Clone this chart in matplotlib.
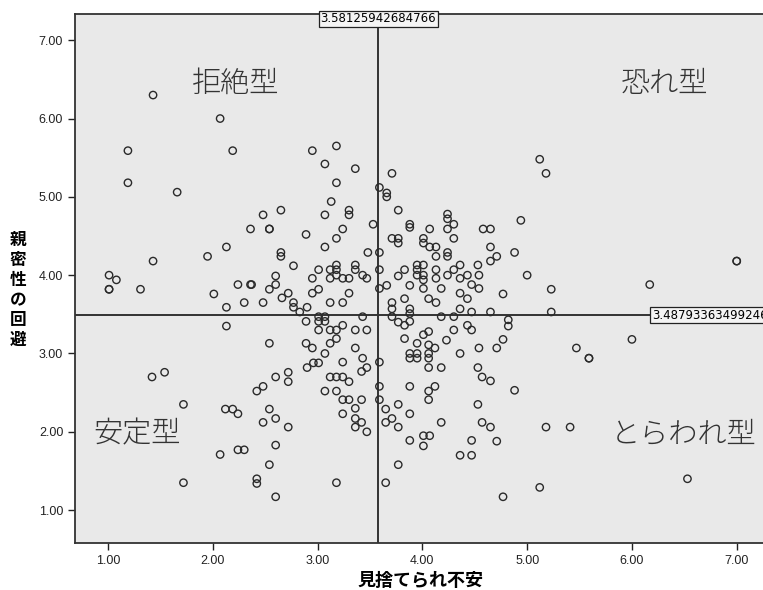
import numpy as np
import matplotlib
matplotlib.use('Agg')
import matplotlib.pyplot as plt
import matplotlib.transforms as mtransforms

plt.rcParams['font.family'] = ['Liberation Sans Narrow', 'Liberation Sans', 'Noto Sans CJK JP', 'DejaVu Sans']

# 見捨てられ不安 (x) / 親密性の回避 (y)
x = [
    1.43, 2.07, 1.19, 2.19, 2.95, 3.18, 3.07, 3.36, 1.19, 3.18, 3.71, 1.66, 3.59, 3.66, 3.66, 3.13,
    3.77, 2.48, 2.65, 3.07, 3.30, 3.30, 2.36, 2.54, 2.54, 2.89, 3.24, 3.53, 3.18, 3.71, 3.07, 2.13,
    1.95, 1.43, 2.65, 2.65, 3.48, 3.59,
    5.12, 5.18, 3.88, 3.88, 4.07, 4.24, 4.24, 4.24, 4.30, 4.30, 4.58, 4.65, 4.94, 3.77, 3.77, 4.01,
    4.01, 4.07, 4.13, 4.13, 4.24, 4.24, 4.65, 4.65, 4.71, 4.88, 7.00, 7.00, 4.53, 4.36,
    2.77, 2.37, 2.54, 2.60, 2.60, 2.48, 2.66, 2.72, 2.77, 2.77, 2.83, 2.90, 2.89, 2.95, 3.01, 3.01,
    2.95, 3.12, 3.12, 3.18, 3.18, 3.18, 3.24, 3.30, 3.36, 3.36, 3.43, 3.47, 3.30, 3.12, 3.24, 3.01,
    3.07, 3.01, 3.07, 3.43, 3.01, 3.12, 3.18, 3.18, 3.12, 3.24, 3.36, 3.47, 2.54, 2.89, 2.95, 3.07,
    3.36, 3.43, 3.24,
    3.59, 3.59, 3.66, 3.77, 3.83, 3.95, 3.95, 3.95, 4.01, 4.01, 4.01, 3.88, 4.01, 4.13, 4.13, 4.18,
    4.24, 4.30, 4.36, 4.43, 4.47, 4.54, 4.54, 4.36, 4.43, 3.83, 4.06, 4.13, 3.71, 3.71, 3.88, 3.88,
    3.71, 3.77, 3.83, 3.88, 4.18, 4.30, 4.36, 4.47, 4.43, 4.47, 4.30, 4.23, 4.06, 4.01, 3.95, 3.83,
    4.06, 3.88, 3.88, 3.95, 3.95, 4.06, 4.06, 4.12, 4.36, 4.54, 3.59,
    2.90, 2.96, 3.01, 3.42, 3.47, 2.60, 2.72, 2.72, 2.42, 2.48, 3.12, 3.18, 3.24, 3.30, 3.07, 3.18,
    3.24, 3.30, 3.42, 3.24, 3.36, 3.36, 3.42, 3.36, 3.47, 2.54, 2.60, 2.48, 2.72, 2.60, 2.54, 2.42,
    2.42, 3.18,
    4.06, 4.18, 4.53, 4.57, 3.59, 3.88, 4.06, 4.12, 4.06, 3.59, 3.65, 3.77, 3.88, 3.71, 3.65, 3.77,
    4.18, 4.53, 4.57, 3.88, 4.01, 4.07, 4.01, 4.47, 4.36, 4.47, 3.77, 3.65,
    6.17, 5.23, 5.00, 4.77, 5.23, 4.82, 4.82, 4.77, 4.71, 5.47, 5.59, 5.59, 6.00, 4.88, 4.65, 4.65,
    4.71, 5.18, 5.41, 6.53, 5.12, 4.77, 4.65,
    1.01, 1.08, 1.01, 1.01, 1.31, 2.01, 2.13, 2.13, 2.24, 2.36, 2.30, 1.42, 1.54, 1.72, 2.12, 2.19,
    2.24, 2.07, 2.24, 2.30, 2.60, 1.72,
]
y = [
    6.30, 6.00, 5.59, 5.59, 5.59, 5.65, 5.42, 5.36, 5.18, 5.18, 5.30, 5.06, 5.12, 5.05, 5.00, 4.94,
    4.83, 4.77, 4.83, 4.77, 4.83, 4.77, 4.59, 4.59, 4.59, 4.52, 4.59, 4.65, 4.47, 4.47, 4.36, 4.36,
    4.24, 4.18, 4.29, 4.24, 4.29, 4.29,
    5.48, 5.30, 4.65, 4.61, 4.59, 4.78, 4.72, 4.59, 4.65, 4.47, 4.59, 4.59, 4.70, 4.47, 4.41, 4.47,
    4.41, 4.36, 4.36, 4.24, 4.29, 4.24, 4.36, 4.18, 4.24, 4.29, 4.18, 4.18, 4.13, 4.13,
    4.12, 3.88, 3.82, 3.99, 3.88, 3.65, 3.71, 3.77, 3.65, 3.59, 3.53, 3.59, 3.41, 3.96, 4.07, 3.82,
    3.77, 4.07, 3.96, 4.13, 4.07, 4.00, 3.96, 3.96, 4.13, 4.07, 4.00, 3.96, 3.77, 3.65, 3.65, 3.47,
    3.47, 3.41, 3.41, 3.47, 3.30, 3.30, 3.30, 3.19, 3.13, 3.36, 3.30, 3.30, 3.13, 3.13, 3.07, 3.00,
    3.07, 2.94, 2.89,
    4.07, 3.83, 3.87, 3.99, 4.07, 4.13, 4.07, 4.00, 4.13, 4.00, 3.94, 3.87, 3.83, 4.07, 3.96, 3.83,
    4.00, 4.07, 3.96, 4.00, 3.88, 4.00, 3.83, 3.77, 3.70, 3.70, 3.70, 3.65, 3.65, 3.57, 3.57, 3.51,
    3.47, 3.40, 3.36, 3.41, 3.47, 3.47, 3.57, 3.53, 3.36, 3.30, 3.30, 3.17, 3.28, 3.24, 3.13, 3.19,
    3.11, 3.00, 2.94, 3.00, 2.94, 3.00, 2.94, 3.07, 3.00, 3.07, 2.89,
    2.82, 2.88, 2.88, 2.77, 2.82, 2.70, 2.76, 2.64, 2.52, 2.58, 2.70, 2.70, 2.70, 2.64, 2.52, 2.52,
    2.41, 2.41, 2.41, 2.23, 2.30, 2.17, 2.12, 2.06, 2.00, 2.29, 2.17, 2.12, 2.06, 1.83, 1.58, 1.40,
    1.34, 1.35,
    2.82, 2.82, 2.82, 2.70, 2.58, 2.58, 2.52, 2.58, 2.41, 2.41, 2.29, 2.35, 2.23, 2.17, 2.12, 2.06,
    2.12, 2.35, 2.12, 1.89, 1.95, 1.95, 1.82, 1.89, 1.70, 1.70, 1.58, 1.35,
    3.88, 3.82, 4.00, 3.76, 3.53, 3.43, 3.35, 3.18, 3.07, 3.07, 2.94, 2.94, 3.18, 2.53, 2.65, 2.06,
    1.88, 2.06, 2.06, 1.40, 1.29, 1.17, 3.53,
    4.00, 3.94, 3.82, 3.82, 3.82, 3.76, 3.59, 3.35, 3.88, 3.88, 3.65, 2.70, 2.76, 2.35, 2.29, 2.29,
    2.23, 1.71, 1.77, 1.77, 1.17, 1.35,
]

x_mean = 3.58125942684766
y_mean = 3.48793363499246
xticks = [1, 2, 3, 4, 5, 6, 7]
yticks = [1, 2, 3, 4, 5, 6, 7]
quadrants = [('拒絶型', 2.22, 6.45), ('恐れ型', 6.31, 6.45), ('安定型', 1.28, 1.97), ('とらわれ型', 6.49, 1.97)]

fig = plt.figure(figsize=(7.63, 5.90), dpi=100)
ax = fig.add_axes([75 / 763, 47 / 590, 690 / 763, 529 / 590])
ax.set_facecolor('#e9e9e9')

ax.scatter(x, y, s=28, facecolors='none', edgecolors='#2a2a2a', linewidths=1.0, zorder=3)

ax.axvline(x_mean, color='#333333', lw=1.4, zorder=2)
ax.axhline(y_mean, color='#333333', lw=1.4, zorder=2)

box = dict(boxstyle='square,pad=0.12', fc='#f4f4f4', ec='#222222', lw=0.9)
trans = mtransforms.blended_transform_factory(ax.transData, ax.transAxes)
ax.text(x_mean, 1.003, '3.58125942684766', transform=trans, ha='center', va='top',
        fontsize=8.5, bbox=box, zorder=5, clip_on=False, family=['DejaVu Sans'])
ax.text(6.19, y_mean, '3.48793363499246', ha='left', va='center',
        fontsize=8.5, bbox=box, zorder=5, clip_on=False, family=['DejaVu Sans'])

for txt, qx, qy in quadrants:
    ax.text(qx, qy, txt, ha='center', va='center', fontsize=21,
            family=['Noto Sans CJK JP'], color='#333333', fontweight='light')

ax.set_xlim(0.685, 7.27)
ax.set_ylim(0.58, 7.335)
ax.set_xticks(xticks)
ax.set_yticks(yticks)
ax.set_xticklabels(['%.2f' % v for v in xticks])
ax.set_yticklabels(['%.2f' % v for v in yticks])
ax.tick_params(direction='out', length=5, width=1, labelsize=9, colors='#222222')

for side in ['left', 'bottom', 'top']:
    ax.spines[side].set_linewidth(1.3)
    ax.spines[side].set_color('#333333')
ax.spines['right'].set_visible(False)

ax.set_xlabel('見捨てられ不安', fontsize=13, fontweight='bold', labelpad=3,
              family=['Noto Sans CJK JP'])
fig.text(18 / 763, 1 - 290 / 590, '\n'.join('親密性の回避'), ha='center', va='center',
         fontsize=12, fontweight='bold', linespacing=1.15, family=['Noto Sans CJK JP'])

fig.savefig('out.png', dpi=100)
